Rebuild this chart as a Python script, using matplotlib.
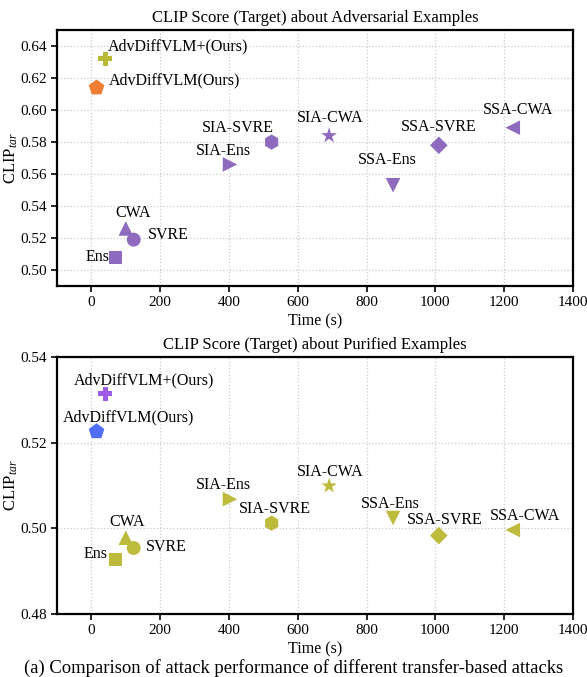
import matplotlib.pyplot as plt

plt.rcParams['font.family'] = ['Liberation Serif', 'DejaVu Serif']
plt.rcParams['mathtext.fontset'] = 'custom'
plt.rcParams['mathtext.rm'] = 'Liberation Serif'
plt.rcParams['mathtext.it'] = 'Liberation Serif:italic'

# methods (same order in both panels)
names = ['AdvDiffVLM+(Ours)', 'AdvDiffVLM(Ours)', 'Ens', 'CWA', 'SVRE',
         'SIA-Ens', 'SIA-SVRE', 'SIA-CWA', 'SSA-Ens', 'SSA-SVRE', 'SSA-CWA']
times = [40, 15, 70, 100, 123, 403, 524, 691, 877, 1010, 1225]
markers = ['P', 'p', 's', '^', 'o', '>', 'h', '*', 'v', 'D', '<']

# CLIP_tar scores
adv_scores = [0.632, 0.614, 0.508, 0.526, 0.519, 0.566, 0.580, 0.584, 0.553, 0.578, 0.589]
pur_scores = [0.5314, 0.5226, 0.4928, 0.4978, 0.4954, 0.5068, 0.5012, 0.5099, 0.5024, 0.4983, 0.4996]

# colours
adv_colors = ['#b8b934', '#ef7d33'] + ['#8e6bbf'] * 9
pur_colors = ['#9d5ce6', '#4f6ef5'] + ['#bcbb3c'] * 9

# label offsets in points (dx, dy, ha)
adv_offs = [(2, 9, 'left'), (9, 5, 'left'), (-4, 0, 'right'), (5, 11, 'center'),
            (10, 3, 'left'), (-5, 10, 'center'), (-24, 10, 'center'), (1, 13, 'center'),
            (-4, 18, 'center'), (0, 13, 'center'), (4, 13, 'center')]
pur_offs = [(28, 10, 'center'), (23, 10, 'center'), (-6, 4, 'right'), (1, 11, 'center'),
            (9, 1, 'left'), (-5, 10, 'center'), (2, 10, 'center'), (1, 10, 'center'),
            (-2, 10, 'center'), (4, 11, 'center'), (9, 10, 'center')]

sizes = {'P': 110, 'p': 140, 's': 90, '^': 110, 'o': 100, '>': 110, 'h': 120,
         '*': 140, 'v': 110, 'D': 80, '<': 110}


def draw(ax, scores, colors, offs, title, ylim, yticks):
    for n, t, s, m, c, o in zip(names, times, scores, markers, colors, offs):
        ax.scatter(t, s, marker=m, s=sizes[m], color=c, edgecolors='none', zorder=3)
        ax.annotate(n, (t, s), xytext=(o[0], o[1]), textcoords='offset points',
                    ha=o[2], va='center', fontsize=11.5)
    ax.set_xlim(-100, 1400)
    ax.set_ylim(*ylim)
    ax.set_xticks([0, 200, 400, 600, 800, 1000, 1200, 1400])
    ax.set_yticks(yticks)
    ax.set_yticklabels(['%.2f' % v for v in yticks])
    ax.grid(True, linestyle=':', color='#cccccc', linewidth=0.9)
    ax.set_axisbelow(True)
    for sp in ax.spines.values():
        sp.set_linewidth(1.6)
    ax.tick_params(labelsize=11, width=1.2, length=4)
    ax.set_xlabel('Time (s)', fontsize=11.5, labelpad=3)
    ax.set_ylabel('CLIP$_{tar}$', fontsize=12)
    ax.yaxis.set_label_coords(-0.072, 0.5)
    ax.set_title(title, fontsize=12, pad=6)


fig = plt.figure(figsize=(5.87, 6.77), dpi=100)
ax1 = fig.add_axes([0.0971, 0.5775, 0.879, 0.378])
ax2 = fig.add_axes([0.0971, 0.0931, 0.879, 0.3796])

draw(ax1, adv_scores, adv_colors, adv_offs,
     'CLIP Score (Target) about Adversarial Examples', (0.49, 0.65),
     [0.50, 0.52, 0.54, 0.56, 0.58, 0.60, 0.62, 0.64])
draw(ax2, pur_scores, pur_colors, pur_offs,
     'CLIP Score (Target) about Purified Examples', (0.48, 0.54),
     [0.48, 0.50, 0.52, 0.54])

fig.text(0.5, 0.0, '(a) Comparison of attack performance of different transfer-based attacks',
         ha='center', va='bottom', fontsize=13.4)

plt.savefig('out.png', dpi=100)
